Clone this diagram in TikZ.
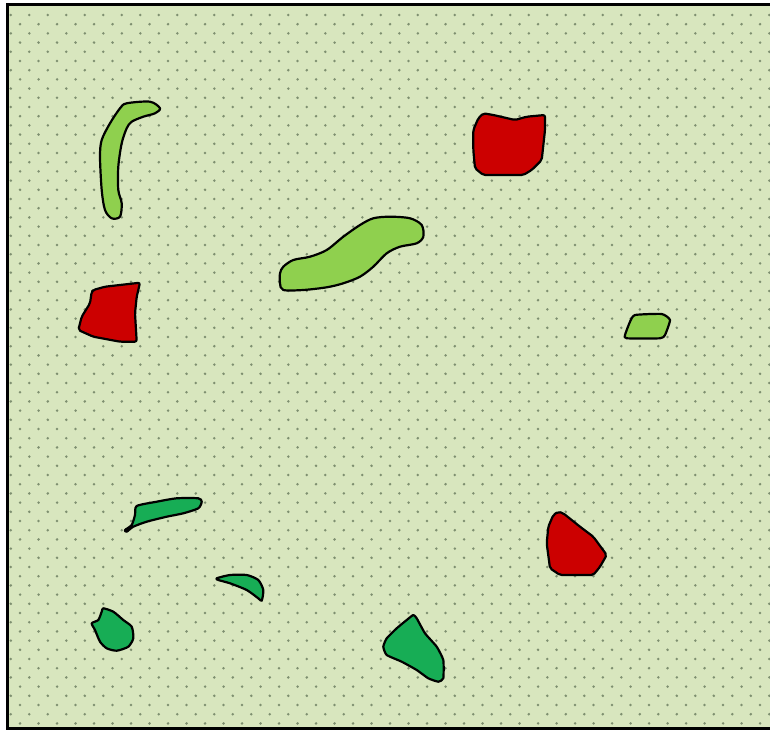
\documentclass[tikz,border=0pt]{standalone}
\usepackage{tikz}
\usetikzlibrary{calc}
\usepackage{xcolor}
\definecolor{fieldbg}{HTML}{D8E6BE}
\definecolor{fielddot}{HTML}{7E8F70}
\definecolor{leafgreen}{HTML}{8FD04E}
\definecolor{deepgreen}{HTML}{17AD55}
\definecolor{patchred}{HTML}{CC0000}

\begin{document}
\begin{tikzpicture}[
      x=1pt, y=-1pt,
      blob/.style={draw=black, line width=2.2pt, line join=round},
      lightblob/.style={blob, fill=leafgreen},
      darkblob/.style={blob, fill=deepgreen},
      redblob/.style={blob, fill=patchred, rounded corners=2pt},
    ]
    \useasboundingbox (0,0) rectangle (770,730);
    \fill[fieldbg] (7,5) rectangle (790,728);
    \begin{scope}
      \clip (7,5) rectangle (790,728);
      \foreach \r in {0,...,77} {
        \foreach \c in {0,...,41} {
          \fill[fielddot] ({10.8+18.5*\c+9.25*mod(\r,2)}, {15+9.2*\r}) circle (1.4pt);
        }
      }
    \end{scope}
    \draw[line width=3pt] (7,5) rectangle (790,728);

    \draw[lightblob] plot[smooth cycle, tension=0.5] coordinates {
      (126.7,103.3) (150,101.7) (160,108.3) (155,113.3) (143.3,116.7)
      (131.7,121.7) (126.7,128.3) (121.7,143.3) (118.3,166.7) (118.3,190)
      (121.7,203.3) (120,216.7) (111.7,218.3) (105,210) (101.7,190)
      (100,156.7) (101.7,140) (110,123.3) (120,108.3)};

    \draw[lightblob] plot[smooth cycle, tension=0.5] coordinates {
      (280,273.3) (283.3,266.7) (293.3,260) (310,256.7) (326.7,250)
      (343.3,236.7) (360,225) (373.3,218.3) (390,216.7) (410,218.3)
      (421.7,225) (423.3,236.7) (416.7,243.3) (400,246.7) (386.7,253.3)
      (373.3,266.7) (360,276.7) (343.3,283.3) (326.7,287.3) (303.3,290)
      (283.3,290) (280,283.3)};

    \draw[lightblob] plot[smooth cycle, tension=0.3] coordinates {
      (635,315) (661.7,314) (670,320) (665,335) (660,338.3)
      (626.7,338.3) (625,335) (630,321.7)};

    \draw[redblob] (483.3,113.3) -- (493.3,115) -- (515,120) -- (526.7,116.7)
      -- (545,115) -- (545,130) -- (541.7,160) -- (531.7,170) -- (523.3,175)
      -- (483.3,175) -- (475,168.3) -- (473.3,150) -- (473.3,130)
      -- (478.3,118.3) -- cycle;

    \draw[redblob] (93.3,290) -- (105,286.7) -- (140,282.7) -- (136.7,296.7)
      -- (135,313.3) -- (136.7,341.7) -- (120,341.7) -- (93.3,336.7)
      -- (78.3,330) -- (81.7,316.7) -- (90,303.3) -- (91.7,291.7) -- cycle;

    \draw[redblob] (558.3,511.7) -- (563.3,513.3) -- (580,526.7) -- (593.3,536.7)
      -- (606.7,555) -- (600,566.7) -- (593.3,575) -- (560,575) -- (550,568.3)
      -- (546.7,543.3) -- (548.3,526.7) -- (553.3,515) -- cycle;

    \draw[darkblob] plot[smooth cycle, tension=0.4] coordinates {
      (136.7,506) (156.7,501.7) (176.7,498.3) (198.3,498.3) (201.7,501.7)
      (198.3,508.3) (183.3,513.3) (166.7,516.7) (146.7,521.7) (133.3,526.7)
      (126.7,531.7) (125,530) (131.7,525) (135,515)};

    \draw[darkblob] plot[smooth cycle, tension=0.4] coordinates {
      (216.7,578.3) (230,575) (246.7,575) (258.3,580) (263.3,590)
      (261.7,600.7) (258.3,598.3) (246.7,590) (230,583.3) (218.3,580)};

    \draw[darkblob] plot[smooth cycle, tension=0.4] coordinates {
      (103.3,608.3) (113.3,611.7) (123.3,620) (131.7,626.7) (133.3,638.3)
      (128.3,646.7) (116.7,650.7) (106.7,648.3) (100,641.7) (95,630)
      (91.7,623.3) (98.3,620) (101.7,611.7)};

    \draw[darkblob] plot[smooth cycle, tension=0.3] coordinates {
      (413.3,615) (416.7,618.3) (425,633.3) (436.7,646.7) (443.3,660)
      (443.3,678.3) (438.3,681.7) (428.3,678.3) (416.7,670) (401.7,661.7)
      (386.7,655) (383.3,646.7) (386.7,638.3) (396.7,628.3) (406.7,620)};
  \end{tikzpicture}
\end{document}
